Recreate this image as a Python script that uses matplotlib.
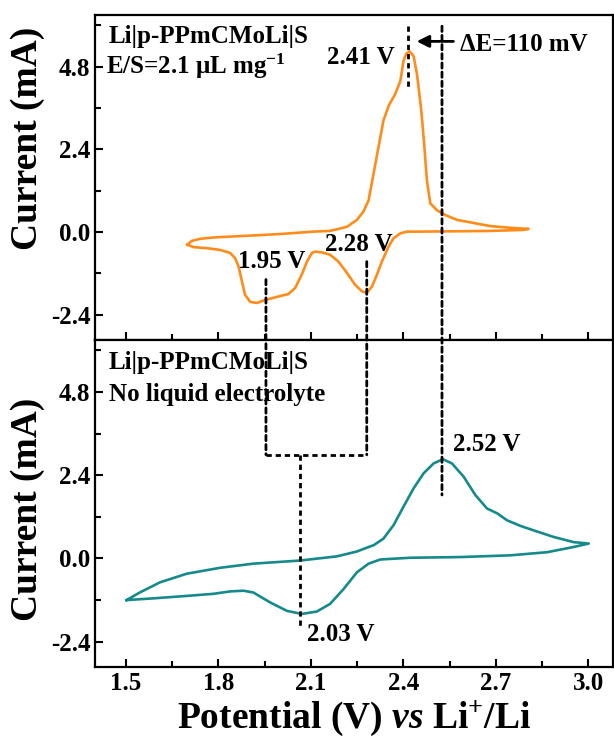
import matplotlib
matplotlib.use("Agg")
import matplotlib.pyplot as plt
from matplotlib.patches import ConnectionPatch
from matplotlib.ticker import MultipleLocator

plt.rcParams['font.family'] = 'Liberation Serif'
plt.rcParams['font.weight'] = 'bold'
plt.rcParams['axes.labelweight'] = 'bold'
plt.rcParams['mathtext.fontset'] = 'custom'
plt.rcParams['mathtext.rm'] = 'Liberation Serif:bold'
plt.rcParams['mathtext.bf'] = 'Liberation Serif:bold'
plt.rcParams['mathtext.it'] = 'Liberation Serif:italic:bold'

# top panel: with liquid electrolyte (E/S = 2.1 uL/mg), one closed CV loop
top_v = [1.699, 1.713, 1.740, 1.783, 1.892, 2.000, 2.108, 2.162, 2.217, 2.249,
         2.270, 2.287, 2.303, 2.319, 2.335, 2.352, 2.373, 2.390, 2.400, 2.409,
         2.420, 2.433, 2.444, 2.457, 2.468, 2.476, 2.487, 2.509, 2.536, 2.574,
         2.682, 2.747, 2.806,
         2.790, 2.682, 2.574, 2.450, 2.411, 2.390, 2.368, 2.352, 2.330, 2.314,
         2.298, 2.281, 2.265, 2.243, 2.217, 2.189, 2.162, 2.135, 2.114, 2.103,
         2.087, 2.070, 2.049, 2.027, 2.000, 1.957, 1.924, 1.903, 1.886, 1.876,
         1.865, 1.854, 1.838, 1.805, 1.762, 1.719, 1.699]
top_i = [-0.37, -0.26, -0.20, -0.16, -0.11, -0.06, 0.01, 0.03, 0.15, 0.35,
         0.59, 0.92, 1.69, 2.46, 3.23, 3.66, 4.00, 4.38, 4.96, 5.17,
         5.24, 5.10, 4.57, 3.61, 2.46, 1.50, 0.83, 0.63, 0.49, 0.35,
         0.17, 0.12, 0.09,
         0.06, 0.03, 0.02, 0.01, 0.01, -0.04, -0.18, -0.42, -0.86, -1.24,
         -1.58, -1.77, -1.72, -1.53, -1.19, -0.86, -0.66, -0.59, -0.57, -0.61,
         -0.86, -1.24, -1.62, -1.80, -1.86, -1.96, -2.06, -2.03, -1.82, -1.43,
         -1.00, -0.76, -0.61, -0.52, -0.47, -0.44, -0.37]

# bottom panel: no liquid electrolyte
bot_v = [1.502, 1.545, 1.610, 1.697, 1.805, 1.913, 2.065, 2.184, 2.249, 2.287,
         2.303, 2.335, 2.368, 2.400, 2.433, 2.465, 2.498, 2.528, 2.557, 2.595,
         2.633, 2.671, 2.704, 2.736, 2.779, 2.822, 2.887, 2.952, 3.001,
         2.952, 2.866, 2.747, 2.584, 2.422, 2.325, 2.287, 2.249, 2.206, 2.162,
         2.119, 2.070, 2.022, 1.968, 1.913, 1.881, 1.838, 1.783, 1.697, 1.589,
         1.502]
bot_i = [-1.20, -0.98, -0.69, -0.44, -0.27, -0.15, -0.06, 0.06, 0.20, 0.33,
         0.38, 0.57, 0.96, 1.49, 2.02, 2.45, 2.74, 2.86, 2.74, 2.36,
         1.83, 1.44, 1.30, 1.10, 0.94, 0.81, 0.62, 0.47, 0.43,
         0.33, 0.18, 0.09, 0.04, 0.02, -0.03, -0.15, -0.40, -0.88, -1.31,
         -1.53, -1.60, -1.51, -1.27, -0.98, -0.93, -0.95, -1.02, -1.08, -1.15,
         -1.20]

xticks = [1.5, 1.8, 2.1, 2.4, 2.7, 3.0]
yticks = [-2.4, 0.0, 2.4, 4.8]

fig = plt.figure(figsize=(6.14, 7.42), dpi=100)
ax1 = fig.add_axes([0.155, 0.542, 0.8435, 0.438])
ax2 = fig.add_axes([0.155, 0.101, 0.8435, 0.441])

ax1.plot(top_v, top_i, color='#ff8c1a', lw=1.9, solid_joinstyle='round')
ax2.plot(bot_v, bot_i, color='#168a8a', lw=1.9, solid_joinstyle='round')

for ax in (ax1, ax2):
    ax.set_xlim(1.4, 3.08)
    ax.set_ylim(-3.13, 6.3)
    ax.set_xticks(xticks)
    ax.set_yticks(yticks)
    ax.yaxis.set_major_formatter(plt.FormatStrFormatter('%.1f'))
    ax.xaxis.set_minor_locator(MultipleLocator(0.15))
    ax.yaxis.set_minor_locator(MultipleLocator(1.2))
    ax.tick_params(which='both', direction='in', top=False, right=False,
                   width=1.5, labelsize=18)
    ax.tick_params(which='major', length=6)
    ax.tick_params(which='minor', length=4)
    for s in ax.spines.values():
        s.set_linewidth(1.6)
    ax.set_ylabel('Current (mA)', fontsize=27)

ax1.tick_params(labelbottom=False)
ax1.yaxis.set_label_coords(-0.097, 0.62)
ax2.yaxis.set_label_coords(-0.097, 0.483)
ax2.set_xlabel(r'Potential (V) $\mathit{vs}$ Li$^{+}$/Li', fontsize=27, labelpad=3)

dash = (0, (1.9, 1.4))
dkw = dict(color='k', lw=2, linestyle=dash)

# peak markers in top panel
ax1.plot([2.416, 2.416], [5.97, 4.15], **dkw)
ax1.annotate('', xy=(2.443, 5.53), xytext=(2.562, 5.53),
             arrowprops=dict(arrowstyle='-|>', color='k', lw=2, mutation_scale=18,
                             shrinkA=0, shrinkB=0))

# lines crossing both panels
for xa, ya, xb, yb in [(2.525, 5.97, 2.525, 1.83),
                       (1.954, -1.38, 1.954, 2.99),
                       (2.281, -0.86, 2.281, 2.99)]:
    con = ConnectionPatch(xyA=(xa, ya), coordsA=ax1.transData,
                          xyB=(xb, yb), coordsB=ax2.transData, **dkw)
    fig.add_artist(con)

ax2.plot([1.954, 2.281], [2.99, 2.99], **dkw)
ax2.plot([2.065, 2.065], [2.99, -1.99], **dkw)

tkw = dict(fontsize=18, va='center')
ax1.text(1.445, 5.68, 'Li|p-PPmCMoLi|S', **tkw)
ax1.text(1.435, 4.80, r'E/S=2.1 μL mg$^{-1}$', **tkw)
ax1.text(2.37, 5.07, '2.41 V', ha='right', **tkw)
ax1.text(2.585, 5.45, 'ΔE=110 mV', **tkw)
ax1.text(1.862, -0.86, '1.95 V', **tkw)
ax1.text(2.145, -0.37, '2.28 V', **tkw)

ax2.text(1.445, 5.64, 'Li|p-PPmCMoLi|S', **tkw)
ax2.text(1.445, 4.72, 'No liquid electrolyte', **tkw)
ax2.text(2.56, 3.28, '2.52 V', **tkw)
ax2.text(2.087, -2.18, '2.03 V', **tkw)

fig.savefig('out.png', dpi=100)
